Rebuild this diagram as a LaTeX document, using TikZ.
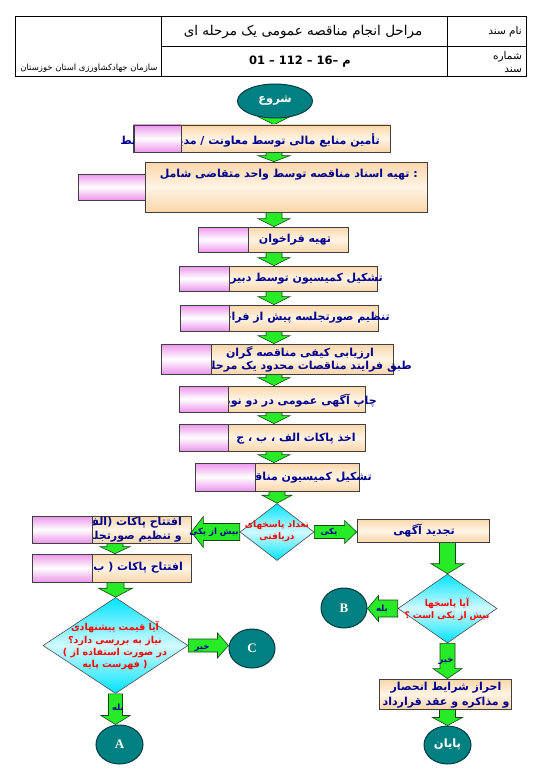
\documentclass[tikz,border=0pt]{standalone}
\usepackage{fontspec}
\usetikzlibrary{calc,shapes.geometric}
\TeXXeTstate=1
\newfontfamily\fa[Script=Arabic]{DejaVu Sans}
\newfontfamily\faL{DejaVu Sans}
\newfontfamily\latn{Liberation Serif}
\newcommand\Rt[1]{\beginR #1\endR}
\definecolor{navy}{RGB}{0,0,140}
\definecolor{peachA}{RGB}{250,214,170}
\definecolor{peachB}{RGB}{255,244,228}
\definecolor{pinkA}{RGB}{236,150,236}
\definecolor{arrowG}{RGB}{40,235,40}
\definecolor{arrowD}{RGB}{20,70,20}
\definecolor{tealF}{RGB}{0,128,128}
\definecolor{tealD}{RGB}{0,60,70}
\definecolor{cyanA}{RGB}{0,228,252}
\definecolor{cyanB}{RGB}{210,250,255}
\pgfdeclarelayer{bg}
\pgfsetlayers{bg,main}
% block arrow: from, to, shaft half width, head half width, head length
\newcommand\blk[5]{%
  \begin{pgfonlayer}{bg}
  \path (#1) coordinate (ba1) (#2) coordinate (ba2);
  \coordinate (hh) at ($(ba2)!#5!(ba1)$);
  \draw[garrow] ($(ba1)!#3!90:(ba2)$) -- ($(hh)!#3!-90:(ba1)$) -- ($(hh)!#4!-90:(ba1)$) -- (ba2)
     -- ($(hh)!#4!90:(ba1)$) -- ($(hh)!#3!90:(ba1)$) -- ($(ba1)!#3!-90:(ba2)$) -- cycle;
  \end{pgfonlayer}}
\begin{document}
\begin{tikzpicture}[x=1pt,y=-1pt,
  box/.style={draw=black!75,line width=0.7pt,rectangle,inner sep=0,top color=peachA,bottom color=peachA,middle color=peachB},
  pinkbox/.style={draw=black!75,line width=0.7pt,rectangle,inner sep=0,top color=pinkA,bottom color=pinkA,middle color=white},
  term/.style={ellipse,draw=tealD,line width=1pt,fill=tealF,inner sep=0,text=white},
  dec/.style={diamond,draw=black!70,line width=0.6pt,inner sep=0,top color=cyanA,bottom color=cyanA,middle color=cyanB},
  txt/.style={inner sep=0,text=navy,font=\fa\bfseries\fontsize{11}{14.5}\selectfont},
  rtxt/.style={inner sep=0,text=red,font=\fa\bfseries\fontsize{9}{12}\selectfont,align=center},
  lbl/.style={inner sep=0,text=navy,font=\fa\bfseries\fontsize{8.5}{9}\selectfont},
  garrow/.style={draw=arrowD,fill=arrowG,line width=0.6pt},
  hdr/.style={inner sep=0,font=\fa\fontsize{10.5}{13}\selectfont}]
\useasboundingbox (0,0) rectangle (540,781);

% header table
\draw[line width=0.8pt] (15,16) rectangle (526,76);
\draw[line width=0.8pt] (161,16) -- (161,76) (447,16) -- (447,76) (161,46) -- (526,46);
\node[hdr,anchor=east] (h1) at (522,32) {\Rt{نام سند}};
\node[hdr,anchor=east,align=right] (h2) at (522,62) {\Rt{شماره}\\\Rt{سند}};
\node[hdr,font=\fa\fontsize{13.5}{15}\selectfont] (h3) at (303,32) {\Rt{مراحل انجام مناقصه عمومی یک مرحله ای}};
\node[hdr,font=\fa\bfseries\fontsize{11.5}{13}\selectfont] (h4) at (300,62) {{\faL\bfseries 01 – 112 – 16–} م};
\node[hdr,font=\fa\fontsize{8.5}{10}\selectfont] (h5) at (89,68) {\Rt{سازمان جهادکشاورزی استان خوزستان}};

\coordinate (col) at (274,0);
\coordinate (lc) at (115,0);

% terminals
\node[term,minimum width=75pt,minimum height=34pt,font=\fa\bfseries\fontsize{11.5}{12}\selectfont] (start) at (275,101) {\Rt{شروع}};
\node[term,minimum width=47pt,minimum height=39pt,font=\latn\bfseries\fontsize{13}{14}\selectfont] (A) at (119.5,744.5) {A};
\node[term,minimum width=46pt,minimum height=40pt,font=\latn\bfseries\fontsize{13}{14}\selectfont] (B) at (344,608) {B};
\node[term,minimum width=46pt,minimum height=39pt,font=\latn\bfseries\fontsize{13}{14}\selectfont] (C) at (252,648.5) {C};
\node[term,minimum width=47pt,minimum height=38pt,font=\fa\bfseries\fontsize{11.5}{12}\selectfont] (end) at (447.5,745) {\Rt{پایان}};

% process boxes
\node[box,minimum width=257pt,minimum height=27pt] (b1) at (261.5,138.5) {};
\node[box,minimum width=282pt,minimum height=50pt] (b2) at (286,187) {};
\node[box,minimum width=150pt,minimum height=25pt] (b3) at (273,239.5) {};
\node[box,minimum width=198pt,minimum height=25pt] (b4) at (278,278.5) {};
\node[box,minimum width=198pt,minimum height=26pt] (b5) at (279,318) {};
\node[box,minimum width=232pt,minimum height=30pt] (b6) at (277,359) {};
\node[box,minimum width=186pt,minimum height=26pt] (b7) at (272,399) {};
\node[box,minimum width=186pt,minimum height=27pt] (b8) at (272,437.5) {};
\node[box,minimum width=164pt,minimum height=28pt] (b9) at (277,477) {};
\node[box,minimum width=159pt,minimum height=27pt] (L1) at (111.5,529.5) {};
\node[box,minimum width=159pt,minimum height=28pt] (L2) at (111.5,568) {};
\node[box,minimum width=132pt,minimum height=23pt] (R1) at (423,530.5) {};
\node[box,minimum width=132pt,minimum height=30pt] (R2) at (445,694) {};

% decisions
\node[dec,minimum width=74pt,minimum height=57pt] (d1) at (277,532) {};
\node[dec,minimum width=145pt,minimum height=96pt] (d2) at (115.5,645.5) {};
\node[dec,minimum width=99pt,minimum height=69pt] (d3) at (447.5,608.5) {};

% box texts
\node[txt,anchor=east] (t1) at (380,140) {\Rt{تأمین منابع مالی توسط معاونت / مدیریت ذیربط}};
\node[txt,anchor=east] (t2) at (418,175) {\Rt{تهیه اسناد مناقصه توسط واحد متقاضی شامل}\ :};
\node[txt] (t3) at (295,240) {\Rt{تهیه فراخوان}};
\node[txt,anchor=east] (t4) at (383,279) {\Rt{تشکیل کمیسیون توسط دبیرخانه}};
\node[txt,anchor=east] (t5) at (390,318) {\Rt{تنظیم صورتجلسه پیش از فراخوان}};
\node[txt] (t6a) at (300,353) {\Rt{ارزیابی کیفی مناقصه گران}};
\node[txt,anchor=east] (t6b) at (412,367) {\Rt{طبق فرایند مناقصات محدود یک مرحله ای}};
\node[txt,anchor=east] (t7) at (377,401) {\Rt{چاپ آگهی عمومی در دو نوبت}};
\node[txt] (t8) at (296,439) {\Rt{اخذ پاکات الف ، ب ، ج}};
\node[txt,anchor=east] (t9) at (372,478) {\Rt{تشکیل کمیسیون مناقصه}};
\node[txt,anchor=east] (tl1a) at (182,523) {\Rt{افتتاح پاکات (الف )}};
\node[txt,anchor=east] (tl1b) at (182,537) {\Rt{و تنظیم صورتجلسه}};
\node[txt,anchor=east] (tl2) at (183,568) {\Rt{افتتاح پاکات ( ب )}};
\node[txt] (tr1) at (424,531) {\Rt{تجدید آگهی}};
\node[txt,align=center] (tr2) at (446,695) {\Rt{احراز شرایط انحصار}\\\Rt{و مذاکره و عقد قرارداد}};

% decision texts
\node[rtxt] (td1) at (277,531) {\Rt{تعداد پاسخهای}\\\Rt{دریافتی}};
\node[rtxt,font=\fa\bfseries\fontsize{9.5}{12.3}\selectfont] (td2) at (115,646) {\Rt{آیا قیمت پیشنهادی}\\\Rt{نیاز به بررسی دارد؟}\\{\faL\bfseries (}\ \Rt{در صورت استفاده از}\\\Rt{فهرست پایه}\ {\faL\bfseries )}};
\node[rtxt] (td3) at (447,609) {\Rt{آیا پاسخها}\\\Rt{بیش از یکی است ؟}};

% pink overlays
\node[pinkbox,minimum width=47pt,minimum height=27pt] (p1) at (157.5,138.5) {};
\node[pinkbox,minimum width=67pt,minimum height=26pt] (p2) at (111.5,187) {};
\node[pinkbox,minimum width=50pt,minimum height=25pt] (p3) at (223,239.5) {};
\node[pinkbox,minimum width=50pt,minimum height=25pt] (p4) at (204,278.5) {};
\node[pinkbox,minimum width=49pt,minimum height=26pt] (p5) at (204.5,318) {};
\node[pinkbox,minimum width=50pt,minimum height=30pt] (p6) at (186,359) {};
\node[pinkbox,minimum width=49pt,minimum height=26pt] (p7) at (203.5,399) {};
\node[pinkbox,minimum width=49pt,minimum height=27pt] (p8) at (203.5,437.5) {};
\node[pinkbox,minimum width=60pt,minimum height=28pt] (p9) at (225,477) {};
\node[pinkbox,minimum width=60pt,minimum height=27pt] (pl1) at (62,529.5) {};
\node[pinkbox,minimum width=60pt,minimum height=28pt] (pl2) at (62,568) {};

% arrows
\blk{$(col|-start.south)+(0,-5)$}{col|-b1.north}{8pt}{16pt}{8pt}
\blk{col|-b1.south}{col|-b2.north}{8pt}{16pt}{6pt}
\blk{col|-b2.south}{col|-b3.north}{8pt}{16pt}{8pt}
\blk{col|-b3.south}{col|-b4.north}{8pt}{16pt}{8pt}
\blk{col|-b4.south}{col|-b5.north}{8pt}{16pt}{8pt}
\blk{col|-b5.south}{col|-b6.north}{8pt}{16pt}{8pt}
\blk{col|-b6.south}{col|-b7.north}{8pt}{16pt}{8pt}
\blk{col|-b7.south}{col|-b8.north}{8pt}{16pt}{8pt}
\blk{col|-b8.south}{col|-b9.north}{8pt}{16pt}{8pt}
\blk{d1.north|-b9.south}{d1.north}{8pt}{15pt}{8pt}
\blk{d1.west}{L1.east|-d1.west}{8.5pt}{15.5pt}{12pt}
\blk{d1.east}{R1.west|-d1.east}{6.5pt}{11.5pt}{12pt}
\blk{lc|-L1.south}{lc|-L2.north}{8pt}{15pt}{7pt}
\blk{d2.north|-L2.south}{d2.north}{8.5pt}{17pt}{9pt}
\blk{d2.east}{C.west|-d2.east}{6.5pt}{12.5pt}{11pt}
\blk{d2.south}{d2.south|-A.north}{7pt}{14.5pt}{9pt}
\blk{d3.north|-R1.south}{d3.north}{8pt}{16.5pt}{10pt}
\blk{d3.west}{B.east|-d3.west}{8.5pt}{13pt}{11pt}
\blk{d3.south}{d3.south|-R2.north}{7.5pt}{14.5pt}{10pt}
\blk{end.north|-R2.south}{end.north}{8pt}{15pt}{8pt}

% arrow labels
\node[lbl] (la1) at (214,532) {\Rt{بیش از یکی}};
\node[lbl] (la2) at (329,532) {\Rt{یکی}};
\node[lbl] (la3) at (382,609) {\Rt{بله}};
\node[lbl] (la4) at (446,661) {\Rt{خیر}};
\node[lbl] (la5) at (202,648) {\Rt{خیر}};
\node[lbl] (la6) at (118,708) {\Rt{بله}};
\end{tikzpicture}
\end{document}
